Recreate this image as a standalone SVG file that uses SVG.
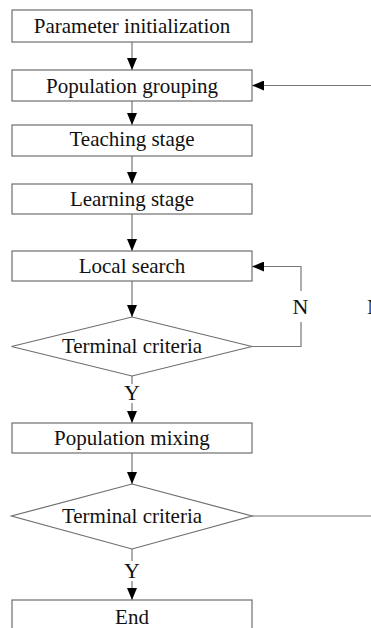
<svg xmlns="http://www.w3.org/2000/svg" width="371" height="628" viewBox="0 0 371 628">
<style>
.box{fill:#fff;stroke:#6e6e6e;stroke-width:1.2}
.t{font-family:"Liberation Serif","Times New Roman",serif;font-size:21px;fill:#111;text-anchor:middle}
.lbl{font-family:"Liberation Serif","Times New Roman",serif;font-size:22px;fill:#111;text-anchor:middle}
.c{fill:none;stroke:#777;stroke-width:1.2}
</style>
<defs>
<marker id="ah" markerUnits="userSpaceOnUse" markerWidth="12" markerHeight="10" refX="12" refY="5" orient="auto">
<path d="M0,0 L12,5 L0,10 z" fill="#000"/>
</marker>
</defs>
<rect width="371" height="628" fill="#fff"/>
<g id="connectors">
<line class="c" x1="132" y1="42" x2="132" y2="70" marker-end="url(#ah)"/>
<line class="c" x1="371" y1="85.5" x2="252" y2="85.5" marker-end="url(#ah)"/>
<line class="c" x1="132" y1="101" x2="132" y2="125" marker-end="url(#ah)"/>
<line class="c" x1="132" y1="156" x2="132" y2="184" marker-end="url(#ah)"/>
<line class="c" x1="132" y1="214" x2="132" y2="251" marker-end="url(#ah)"/>
<line class="c" x1="132" y1="281" x2="132" y2="317" marker-end="url(#ah)"/>
<polyline class="c" points="252,346.5 301,346.5 301,322"/>
<polyline class="c" points="301,291 301,266.5 252,266.5" marker-end="url(#ah)"/>
<line class="c" x1="132" y1="376" x2="132" y2="384"/>
<line class="c" x1="132" y1="403" x2="132" y2="423" marker-end="url(#ah)"/>
<line class="c" x1="132" y1="453" x2="132" y2="484" marker-end="url(#ah)"/>
<line class="c" x1="252" y1="516" x2="371" y2="516"/>
<line class="c" x1="132" y1="549" x2="132" y2="561"/>
<line class="c" x1="132" y1="581" x2="132" y2="600" marker-end="url(#ah)"/>
<text class="lbl" x="300.5" y="313.5">N</text>
<text class="lbl" x="375" y="313.5">N</text>
<text class="lbl" x="132" y="400">Y</text>
<text class="lbl" x="132" y="578">Y</text>
</g>
<g id="n1"><rect class="box" x="12" y="10" width="240" height="32"/><text class="t" x="132" y="33">Parameter initialization</text></g>
<g id="n2"><rect class="box" x="12" y="70" width="240" height="31"/><text class="t" x="132" y="92.5">Population grouping</text></g>
<g id="n3"><rect class="box" x="12" y="125" width="240" height="31"/><text class="t" x="132" y="145.5">Teaching stage</text></g>
<g id="n4"><rect class="box" x="12" y="184" width="240" height="30"/><text class="t" x="132" y="205.5">Learning stage</text></g>
<g id="n5"><rect class="box" x="12" y="251" width="240" height="30"/><text class="t" x="132" y="273">Local search</text></g>
<g id="d1"><polygon class="box" points="132,317 252,346.5 132,376 11.5,346.5"/><text class="t" x="132" y="352.5">Terminal criteria</text></g>
<g id="n6"><rect class="box" x="12" y="423" width="240" height="30"/><text class="t" x="132" y="445">Population mixing</text></g>
<g id="d2"><polygon class="box" points="132,484 252,516 132,549 11.5,516"/><text class="t" x="132" y="522.5">Terminal criteria</text></g>
<g id="n7"><rect class="box" x="12" y="600" width="240" height="40"/><text class="t" x="132" y="624">End</text></g>
</svg>
